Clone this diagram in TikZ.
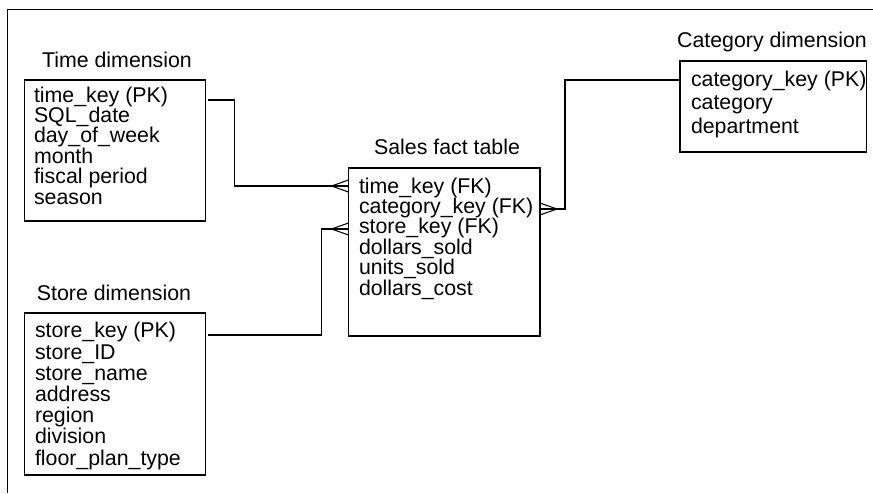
\documentclass[tikz,border=0pt]{standalone}
\usepackage{fontspec}
\setmainfont{Liberation Sans}
\usetikzlibrary{calc}
\begin{document}
\begin{tikzpicture}[x=0.75pt,y=-0.75pt,line width=0.8pt,
  every node/.style={inner sep=0pt,outer sep=0pt,font=\fontsize{16}{15.3}\selectfont},
  tbl/.style={draw,anchor=north west},
  attrs/.style={anchor=base west,align=left},
  ttl/.style={anchor=base},
  crowfoot/.pic={\draw (0,-6) -- (-17,0) -- (0,6);}]
\useasboundingbox (0,0) rectangle (873,493);
\draw[line width=0.75pt] (873,9) -- (7.5,9) -- (7.5,493);
% dimension and fact tables (attribute lists placed by their last line)
\node[tbl,minimum width=135.4pt,minimum height=105.75pt] (time) at (24.5,80) {};
\node[ttl] (timetitle) at (117,67) {Time dimension};
\node[attrs] (timeattr) at (34,204) {time\_key (PK)\\ SQL\_date\\ day\_of\_week\\ month\\ fiscal period\\ season};
\node[tbl,minimum width=143.6pt,minimum height=126pt] (sales) at (348.5,168) {};
\node[ttl] (salestitle) at (447,154) {Sales fact table};
\node[attrs] (salesattr) at (359,295) {time\_key (FK)\\ category\_key (FK)\\ store\_key (FK)\\ dollars\_sold\\ units\_sold\\ dollars\_cost};
\node[tbl,minimum width=139.9pt,minimum height=68.25pt] (category) at (680,61) {};
\node[ttl] (categorytitle) at (772,47) {Category dimension};
\node[attrs,font=\fontsize{16}{17.6}\selectfont] (categoryattr) at (691,133) {category\_key (PK)\\ category\\ department};
\node[tbl,minimum width=135.4pt,minimum height=121.5pt] (store) at (24.5,313) {};
\node[ttl] (storetitle) at (114,300) {Store dimension};
\node[attrs,font=\fontsize{16}{15.9}\selectfont] (storeattr) at (35,465) {store\_key (PK)\\ store\_ID\\ store\_name\\ address\\ region\\ division\\ floor\_plan\_type};
% key rows on the fact table
\coordinate (salestime) at ($(sales.north west)+(0,18)$);
\coordinate (salesstore) at ($(sales.north west)+(0,61)$);
\coordinate (salescat) at ($(sales.north east)+(0,41)$);
% relationships
\draw ($(time.north east)+(3,20)$) -- ++(26,0) |- (salestime);
\pic at (salestime) {crowfoot};
\draw ($(store.north east)+(3,22)$) -- ++(113,0) |- (salesstore);
\pic at (salesstore) {crowfoot};
\draw (salescat) -- ++(25,0) |- ($(category.north west)+(0,19)$);
\pic[rotate=180] at (salescat) {crowfoot};
\end{tikzpicture}
\end{document}
